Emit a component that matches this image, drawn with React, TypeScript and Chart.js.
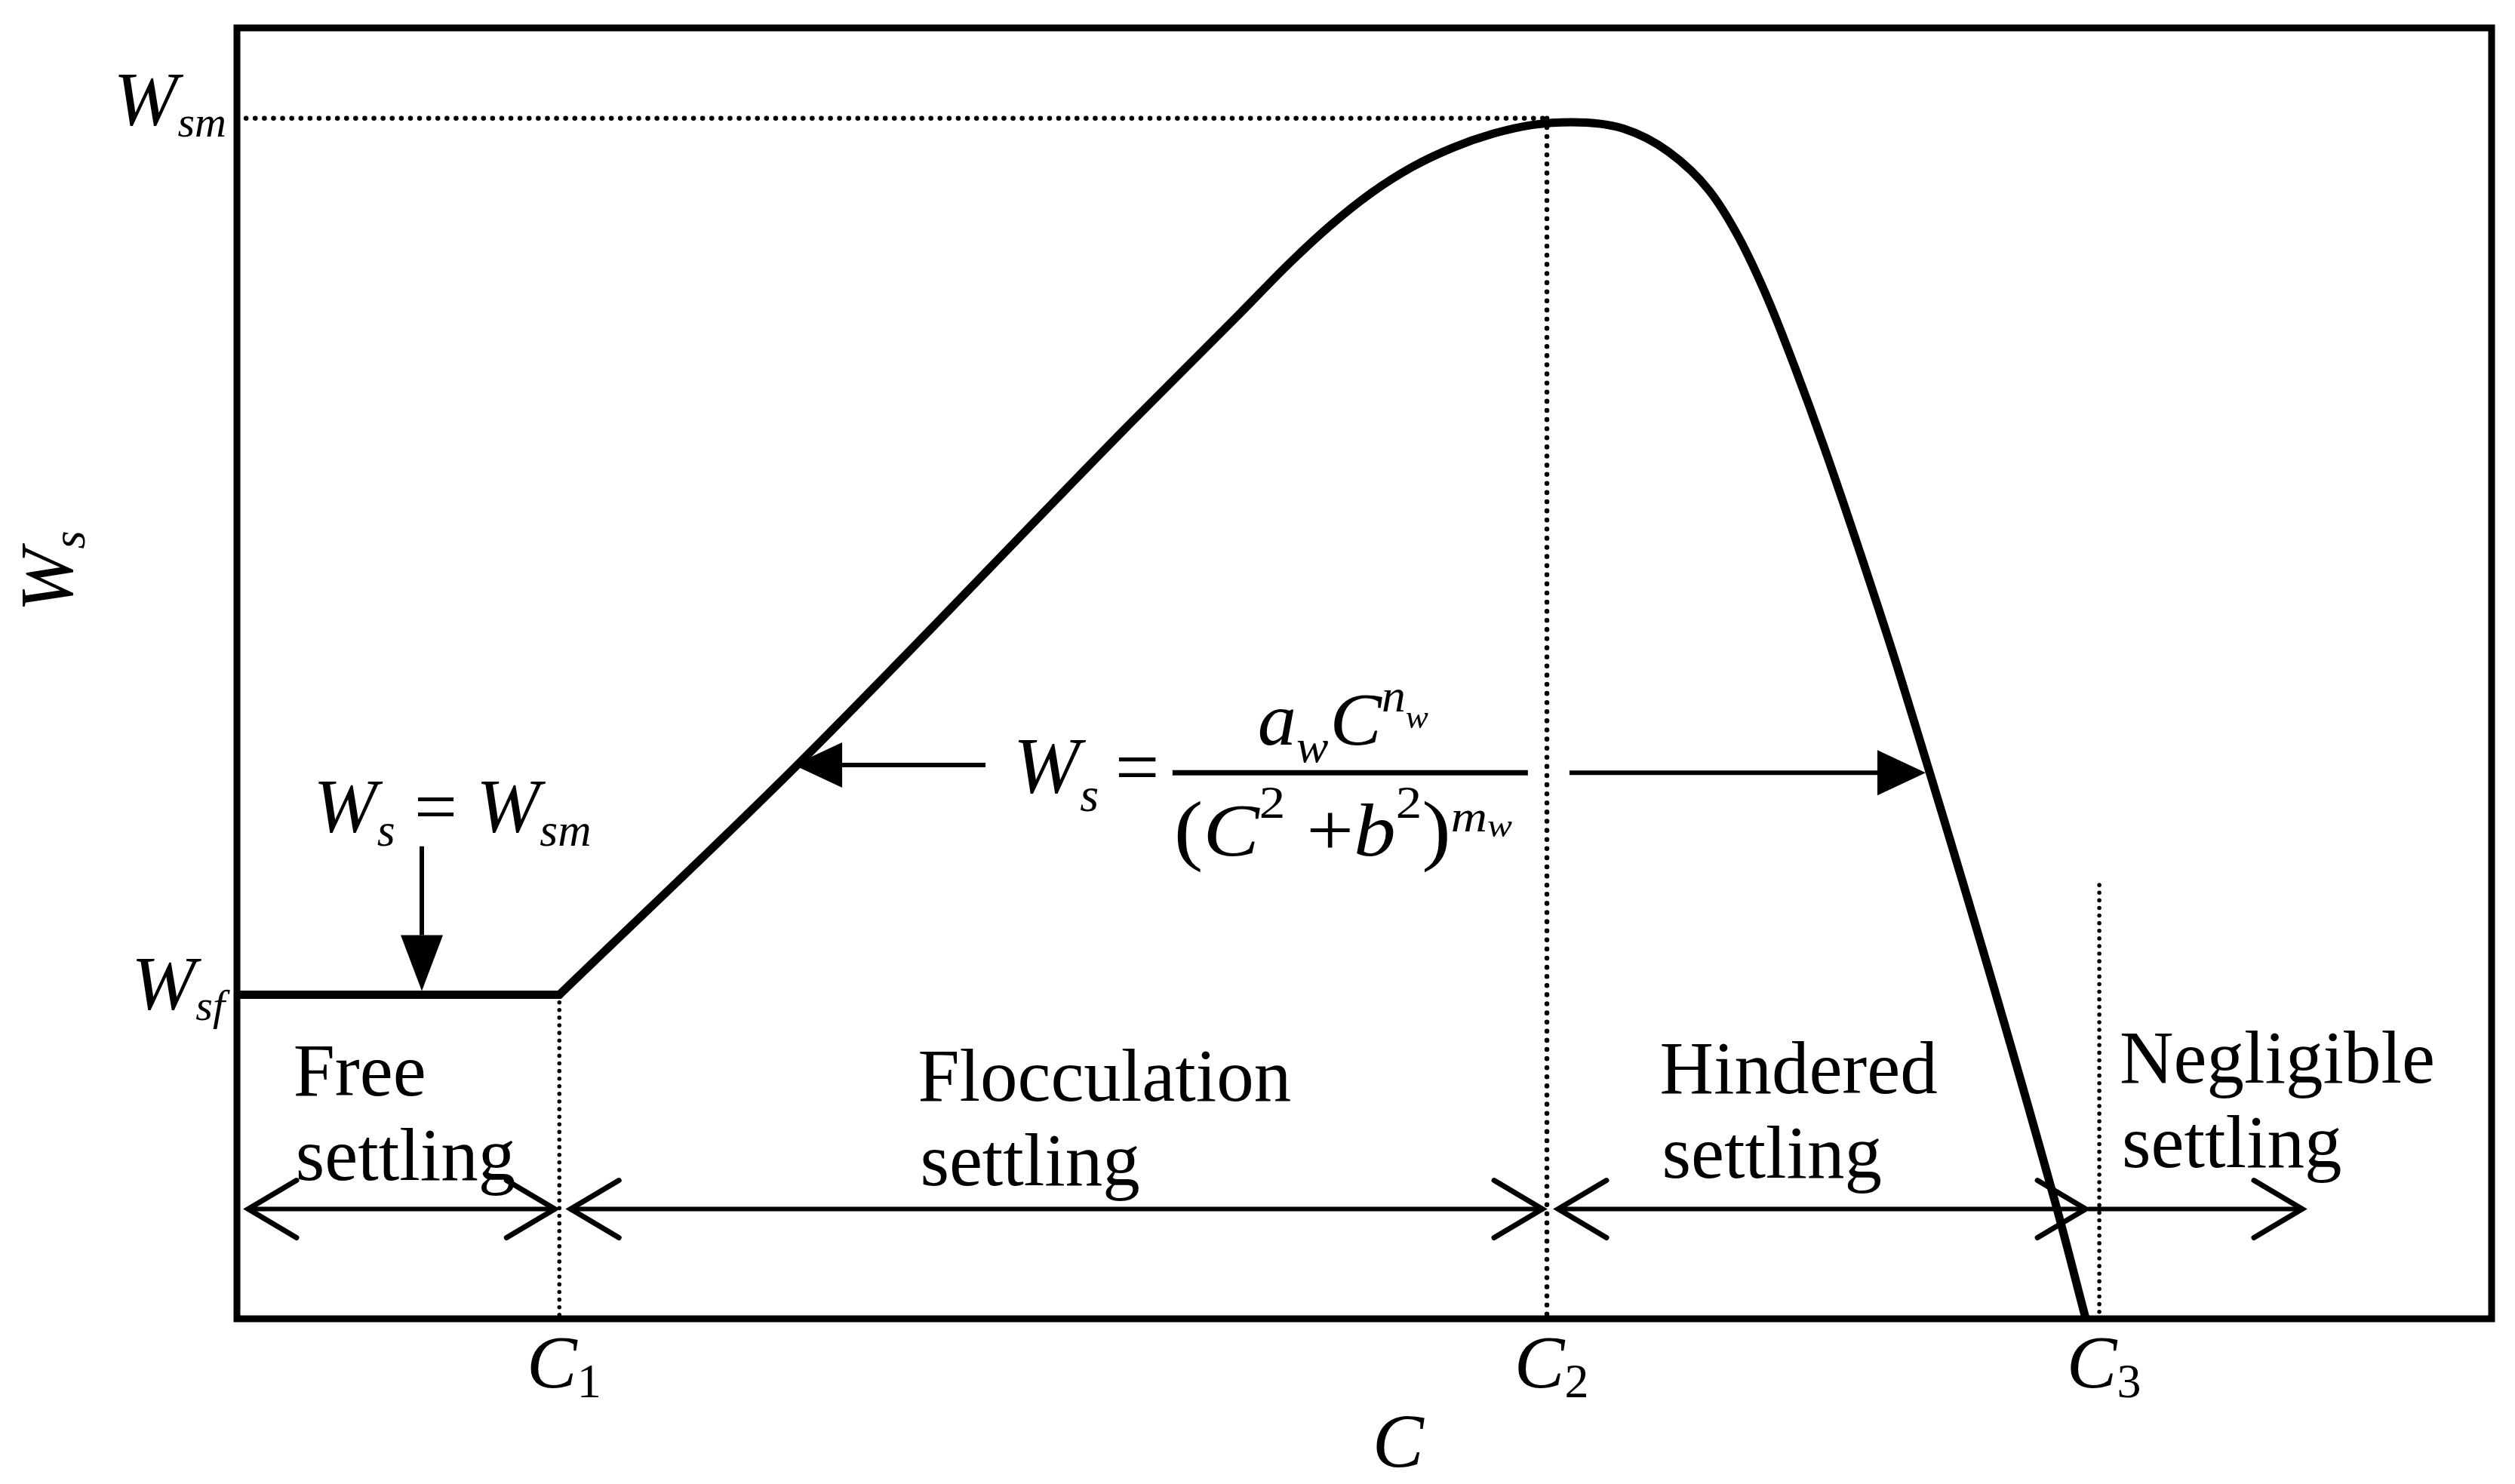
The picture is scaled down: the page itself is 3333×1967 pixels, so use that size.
import React, { useEffect, useRef } from 'react';
import { Chart, registerables } from 'chart.js';

Chart.register(...registerables);

const FONT = '"Liberation Serif", "Times New Roman", serif';

// Characteristic concentrations (relative units on the C axis, 0..100)
const C1 = 14.3;
const C2 = 58.1;
const C3 = 82.6;
// Characteristic settling velocities (relative units on the Ws axis, 0..100)
const W_SF = 25.1;
const W_SM = 93.0;

// Free-settling plateau
const flatC = [0, C1];
const flatW = [W_SF, W_SF];

// Flocculation / hindered settling curve
const curveC = [14.3, 24.8, 39.7, 44.5, 46.7, 48.5, 50.3, 52.1, 53.9, 55.7, 57.5, 59.2, 61.5, 63.5, 65.3, 66.6, 67.9, 69.1, 70.4, 72.0, 73.8, 80.6, 82.0];
const curveW = [25.1, 42.8, 69.5, 77.9, 81.8, 84.7, 87.2, 89.2, 90.7, 91.8, 92.5, 92.7, 92.2, 90.4, 87.4, 83.8, 79.0, 73.7, 67.5, 59.3, 49.6, 9.3, 0];

// top of the dotted line at C3
const C3_DOT_TOP = 33.6;

// Region arrows
const regionArrowW = 8.5;
const regionArrowFrom = [0.5, 14.8, 58.6, 82.1];
const regionArrowTo = [14.1, 57.9, 82.0, 91.6];
const regionArrowTwoHeads = [true, true, true, false];

// Region labels
const regionNames = ['Free', 'Flocculation', 'Hindered', 'Negligible'];
const regionSecond = ['settling', 'settling', 'settling', 'settling'];
const regionLabelC = [2.5, 30.2, 63.1, 83.5];
const regionLabelW = [17.3, 16.9, 17.5, 18.3];

// Formula arrows
const formulaArrowFrom = [33.2, 59.1];
const formulaArrowTo = [24.7, 74.9];
const formulaArrowW = [42.9, 42.3];
const formulaAnchorC = 34.7;
const formulaAnchorW = 42.3;

// "Ws = Wsm" arrow
const downArrowC = 8.2;
const downArrowFromW = 36.6;
const downLabelC = 3.4;
const downLabelW = 37.7;

// Tick labels
const xTickValues = [C1, C2, C3];
const xTickSubs = ['1', '2', '3'];
const xTitleC = 51.5;

type Seg = { t: string; size: number; it?: boolean; dy?: number; dx?: number };

const fontOf = (s: Seg) => `${s.it ? 'italic ' : ''}${s.size}px ${FONT}`;

function measure(ctx: CanvasRenderingContext2D, segs: Seg[]) {
  let w = 0;
  for (const s of segs) {
    ctx.font = fontOf(s);
    w += ctx.measureText(s.t).width + (s.dx || 0);
  }
  return w;
}

function drawRich(
  ctx: CanvasRenderingContext2D,
  segs: Seg[],
  x: number,
  y: number,
  align: 'left' | 'center' | 'right' = 'left',
  targetW?: number
) {
  const nat = measure(ctx, segs);
  const sx = targetW ? targetW / nat : 1;
  const w = nat * sx;
  const start = align === 'left' ? x : align === 'center' ? x - w / 2 : x - w;
  ctx.save();
  ctx.translate(start, y);
  ctx.scale(sx, 1);
  ctx.textAlign = 'left';
  ctx.textBaseline = 'alphabetic';
  let cx = 0;
  for (const s of segs) {
    ctx.font = fontOf(s);
    cx += s.dx || 0;
    ctx.fillText(s.t, cx, s.dy || 0);
    cx += ctx.measureText(s.t).width;
  }
  ctx.restore();
}

function filledArrow(
  ctx: CanvasRenderingContext2D,
  x1: number, y1: number, x2: number, y2: number,
  headLen: number, headHalf: number, lw: number
) {
  const ang = Math.atan2(y2 - y1, x2 - x1);
  const bx = x2 - headLen * Math.cos(ang);
  const by = y2 - headLen * Math.sin(ang);
  ctx.lineWidth = lw;
  ctx.lineCap = 'butt';
  ctx.beginPath();
  ctx.moveTo(x1, y1);
  ctx.lineTo(bx, by);
  ctx.stroke();
  ctx.beginPath();
  ctx.moveTo(x2, y2);
  ctx.lineTo(bx + headHalf * Math.sin(ang), by - headHalf * Math.cos(ang));
  ctx.lineTo(bx - headHalf * Math.sin(ang), by + headHalf * Math.cos(ang));
  ctx.closePath();
  ctx.fill();
}

function chevron(ctx: CanvasRenderingContext2D, tx: number, ty: number, dir: number, dx: number, dy: number, lw: number) {
  ctx.lineWidth = lw;
  ctx.lineCap = 'round';
  ctx.lineJoin = 'miter';
  ctx.beginPath();
  ctx.moveTo(tx - dir * dx, ty - dy);
  ctx.lineTo(tx, ty);
  ctx.lineTo(tx - dir * dx, ty + dy);
  ctx.stroke();
}

const annotations = {
  id: 'annotations',
  afterDraw(chart: any) {
    const { ctx, chartArea: a } = chart;
    const xs = chart.scales.x;
    const ys = chart.scales.y;
    const X = (v: number) => xs.getPixelForValue(v);
    const Y = (v: number) => ys.getPixelForValue(v);
    ctx.save();
    ctx.fillStyle = '#000';
    ctx.strokeStyle = '#000';

    // frame
    ctx.lineWidth = 9;
    ctx.lineJoin = 'miter';
    ctx.strokeRect(a.left, a.top, a.right - a.left, a.bottom - a.top);

    // region arrows
    const ay = Y(regionArrowW);
    for (let i = 0; i < regionArrowFrom.length; i++) {
      const x1 = X(regionArrowFrom[i]);
      const x2 = X(regionArrowTo[i]);
      ctx.lineWidth = 6;
      ctx.lineCap = 'butt';
      ctx.beginPath();
      ctx.moveTo(x1, ay);
      ctx.lineTo(x2, ay);
      ctx.stroke();
      chevron(ctx, x2, ay, 1, 64, 38, 7);
      if (regionArrowTwoHeads[i]) chevron(ctx, x1, ay, -1, 64, 38, 7);
    }

    // region labels
    ctx.textAlign = 'left';
    ctx.textBaseline = 'alphabetic';
    ctx.font = `99px ${FONT}`;
    for (let i = 0; i < regionNames.length; i++) {
      const lx = X(regionLabelC[i]);
      const ly = Y(regionLabelW[i]);
      ctx.fillText(regionNames[i], lx, ly);
      ctx.fillText(regionSecond[i], lx + 3, ly + 112);
    }

    // formula arrows
    for (let i = 0; i < formulaArrowFrom.length; i++) {
      filledArrow(ctx, X(formulaArrowFrom[i]), Y(formulaArrowW[i]), X(formulaArrowTo[i]), Y(formulaArrowW[i]), 64, 30, 6);
    }

    // down arrow Ws = Wsm
    filledArrow(ctx, X(downArrowC), Y(downArrowFromW), X(downArrowC), Y(W_SF) - 5, 74, 28, 6);
    drawRich(ctx, [
      { t: 'W', size: 102, it: true },
      { t: 's', size: 62, it: true, dy: 18 },
      { t: ' = ', size: 102 },
      { t: 'W', size: 102, it: true },
      { t: 'sm', size: 62, it: true, dy: 18 },
    ], X(downLabelC), Y(downLabelW), 'left', 368);

    // formula
    const fx = X(formulaAnchorC);
    const fy = Y(formulaAnchorW);
    drawRich(ctx, [
      { t: 'W', size: 106, it: true },
      { t: 's', size: 64, it: true, dy: 25 },
    ], fx - 8, fy + 26, 'left');
    drawRich(ctx, [{ t: '=', size: 104 }], fx + 127, fy + 28, 'left');
    ctx.lineWidth = 7;
    ctx.lineCap = 'butt';
    ctx.beginPath();
    ctx.moveTo(fx + 203, fy);
    ctx.lineTo(fx + 674, fy);
    ctx.stroke();
    drawRich(ctx, [
      { t: 'a', size: 100, it: true },
      { t: 'w', size: 62, it: true, dy: 23 },
      { t: 'C', size: 100, it: true, dx: 2 },
      { t: 'n', size: 62, it: true, dy: -44 },
      { t: 'w', size: 44, it: true, dy: -22 },
    ], fx + 429, fy - 37, 'center', 226);
    drawRich(ctx, [
      { t: '(', size: 104 },
      { t: 'C', size: 100, it: true },
      { t: '2', size: 62, dy: -50 },
      { t: ' +', size: 100 },
      { t: 'b', size: 100, it: true },
      { t: '2', size: 62, dy: -50 },
      { t: ')', size: 104 },
      { t: 'm', size: 60, it: true, dy: -32 },
      { t: 'w', size: 44, it: true, dy: -25 },
    ], fx + 429, fy + 110, 'center', 448);

    // y tick labels
    drawRich(ctx, [
      { t: 'W', size: 102, it: true },
      { t: 'sm', size: 58, it: true, dy: 15 },
    ], a.left - 14, Y(W_SM) + 9, 'right');
    drawRich(ctx, [
      { t: 'W', size: 102, it: true },
      { t: 'sf', size: 58, it: true, dy: 14 },
    ], a.left - 16, Y(W_SF) + 19, 'right');

    // x tick labels
    for (let i = 0; i < xTickValues.length; i++) {
      drawRich(ctx, [
        { t: 'C', size: 100, it: true },
        { t: xTickSubs[i], size: 64, dy: 13 },
      ], X(xTickValues[i]) + 6, a.bottom + 91, 'center');
    }

    // x title
    drawRich(ctx, [{ t: 'C', size: 102, it: true }], X(xTitleC), a.bottom + 197, 'center');

    // y title (rotated)
    ctx.save();
    ctx.translate(a.left - 219, a.top + 720);
    ctx.rotate(-Math.PI / 2);
    drawRich(ctx, [
      { t: 'W', size: 100, it: true },
      { t: 's', size: 62, it: true, dy: 17 },
    ], 0, 0, 'center');
    ctx.restore();

    ctx.restore();
  },
};

const toPts = (xs: number[], ys: number[]) => xs.map((x, i) => ({ x, y: ys[i] }));

export default function App() {
  const ref = useRef<HTMLCanvasElement | null>(null);
  useEffect(() => {
    if (!ref.current) return;
    const dotted = (pts: { x: number; y: number }[], w: number, gap: number) => ({
      data: pts,
      showLine: true,
      borderColor: '#000',
      borderWidth: w,
      borderDash: [0.1, gap],
      borderCapStyle: 'round' as const,
      pointRadius: 0,
      tension: 0,
      order: 5,
    });
    const chart = new Chart(ref.current, {
      type: 'scatter',
      data: {
        datasets: [
          {
            data: toPts(flatC, flatW),
            showLine: true,
            borderColor: '#000',
            borderWidth: 11,
            borderCapStyle: 'round',
            pointRadius: 0,
            tension: 0,
            order: 1,
          },
          {
            data: toPts(curveC, curveW),
            showLine: true,
            borderColor: '#000',
            borderWidth: 11,
            borderCapStyle: 'round',
            borderJoinStyle: 'round',
            pointRadius: 0,
            cubicInterpolationMode: 'monotone',
            order: 1,
          },
          dotted([{ x: 0, y: W_SM }, { x: C2, y: W_SM }], 6.5, 12),
          dotted([{ x: C2, y: W_SM }, { x: C2, y: 0 }], 6.5, 12),
          dotted([{ x: C1, y: W_SF }, { x: C1, y: 0 }], 5.5, 10),
          dotted([{ x: C3, y: C3_DOT_TOP }, { x: C3, y: 0 }], 5.5, 10),
        ] as any,
      },
      options: {
        animation: false,
        responsive: false,
        maintainAspectRatio: false,
        events: [],
        layout: { padding: { left: 314, right: 31, top: 37, bottom: 219 } },
        plugins: { legend: { display: false }, tooltip: { enabled: false } },
        scales: {
          x: { type: 'linear', min: 0, max: 100, display: false },
          y: { type: 'linear', min: 0, max: 100, display: false },
        },
      },
      plugins: [annotations],
    });
    return () => chart.destroy();
  }, []);
  return (
    <div style={{ position: 'absolute', left: 0, top: 0, width: 3333, height: 1967, background: '#fff' }}>
      <canvas ref={ref} width={3333} height={1967} style={{ display: 'block', width: 3333, height: 1967 }} />
    </div>
  );
}
